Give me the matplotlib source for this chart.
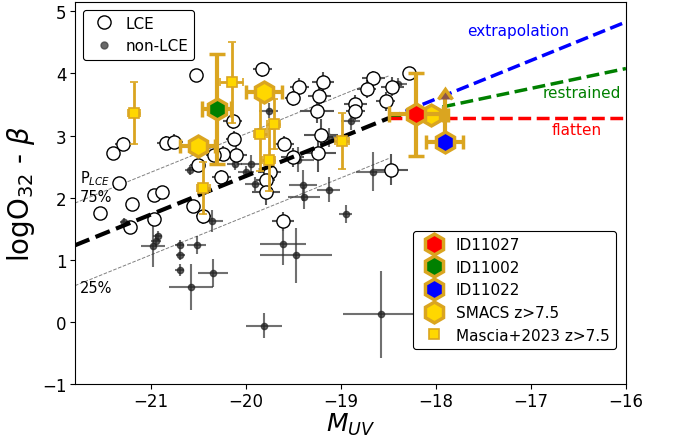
import matplotlib
matplotlib.use('Agg')
import matplotlib.pyplot as plt
import numpy as np
from matplotlib.lines import Line2D

# LCE galaxies (open circles)
lce_muv = [-20.53, -21.30, -21.40, -21.34, -20.84, -20.76, -19.83, -19.44, -19.51, -19.19,
           -19.23, -19.25, -19.21, -19.24, -19.60, -19.51, -20.14, -20.13, -20.11, -20.24,
           -20.34, -20.26, -19.75, -19.79, -19.79, -18.85, -18.85, -18.66, -18.73, -18.46,
           -18.53, -18.28, -18.47, -19.61, -20.97, -20.88, -20.97, -20.56, -20.45, -21.54,
           -21.20, -21.22, -20.51]
lce_val = [3.98, 2.87, 2.72, 2.23, 2.88, 2.90, 4.07, 3.79, 3.60, 3.87,
           3.64, 3.39, 3.01, 2.72, 2.87, 2.65, 3.23, 2.95, 2.68, 2.71,
           2.68, 2.33, 2.42, 2.28, 2.09, 3.51, 3.39, 3.92, 3.75, 3.79,
           3.55, 4.01, 2.45, 1.62, 2.04, 2.09, 1.65, 1.86, 1.70, 1.75,
           1.90, 1.53, 2.52]
lce_xerr = [0.06, 0.08, 0.06, 0.05, 0.10, 0.10, 0.10, 0.10, 0.08, 0.12,
            0.12, 0.18, 0.18, 0.19, 0.10, 0.12, 0.10, 0.08, 0.12, 0.10,
            0.08, 0.10, 0.12, 0.10, 0.15, 0.12, 0.10, 0.12, 0.10, 0.12,
            0.10, 0.06, 0.18, 0.12, 0.06, 0.06, 0.05, 0.05, 0.08, 0.05,
            0.06, 0.05, 0.08]
lce_yerr = [0.08, 0.10, 0.08, 0.06, 0.12, 0.12, 0.12, 0.13, 0.12, 0.16,
            0.20, 0.18, 0.25, 0.30, 0.12, 0.15, 0.12, 0.12, 0.15, 0.12,
            0.10, 0.12, 0.15, 0.15, 0.20, 0.15, 0.15, 0.12, 0.15, 0.15,
            0.15, 0.08, 0.25, 0.15, 0.08, 0.08, 0.08, 0.08, 0.12, 0.06,
            0.08, 0.06, 0.10]

# non-LCE galaxies (filled dots)
nlce_muv = [-18.66, -18.90, -18.40, -19.76, -19.45, -19.13, -19.40, -19.39, -19.13, -18.95,
            -19.61, -19.47, -19.81, -18.58, -19.91, -20.36, -20.98, -20.95, -20.93, -20.70,
            -20.69, -20.70, -20.52, -20.35, -20.58, -21.28, -20.59, -20.12, -19.95, -20.00]
nlce_val = [2.42, 3.24, 3.83, 3.40, 2.61, 2.97, 2.20, 2.01, 2.13, 1.74,
            1.26, 1.07, -0.06, 0.12, 2.22, 1.62, 1.22, 1.31, 1.39, 1.24,
            1.08, 0.84, 1.24, 0.79, 0.56, 1.61, 2.44, 2.54, 2.54, 2.41]
nlce_xerr = [0.18, 0.10, 0.10, 0.10, 0.17, 0.12, 0.15, 0.17, 0.12, 0.07,
             0.24, 0.38, 0.19, 0.40, 0.10, 0.12, 0.13, 0.05, 0.05, 0.05,
             0.05, 0.05, 0.10, 0.16, 0.23, 0.05, 0.05, 0.08, 0.10, 0.08]
nlce_yerr = [0.32, 0.15, 0.10, 0.12, 0.20, 0.15, 0.25, 0.20, 0.20, 0.15,
             0.35, 0.44, 0.20, 0.70, 0.12, 0.18, 0.34, 0.10, 0.08, 0.08,
             0.08, 0.10, 0.15, 0.23, 0.37, 0.06, 0.08, 0.10, 0.15, 0.10]

# Mascia+2023 z>7.5
mas_muv = [-21.18, -20.15, -19.85, -19.71, -19.76, -20.45, -18.99]
mas_val = [3.37, 3.86, 3.03, 3.19, 2.60, 2.15, 2.92]
mas_xerr = [0.06, 0.12, 0.07, 0.07, 0.07, 0.07, 0.07]
mas_yerr = [0.50, 0.65, 0.60, 0.40, 0.50, 0.42, 0.45]

# SMACS z>7.5
smacs_muv = [-20.51, -19.81, -18.05]
smacs_val = [2.84, 3.71, 3.33]
smacs_xerr = [0.18, 0.19, 0.18]

# individual objects
id_names = ['ID11027', 'ID11002', 'ID11022']
id_colors = ['red', 'green', 'blue']
id_muv = [-18.21, -20.31, -17.91]
id_val = [3.34, 3.43, 2.90]
id_xerr = [0.28, 0.15, 0.19]
id_yerr = [0.67, 0.88, 0.69]
id_lolim = [False, False, True]

# relation: pivot and slopes
x_pivot, y_pivot = -18.5, 3.28
slope_fit = 0.62
slope_restr = 0.32
p75_off, p25_off = 0.68, -0.65
x_left, x_right = -21.8, -16.0

gold = '#DAA520'
fill = '#FFD700'

fig, ax = plt.subplots(figsize=(6.76, 4.39), dpi=100)
fig.subplots_adjust(left=0.111, right=0.926, bottom=0.123, top=0.993)

# non-LCE
ax.errorbar(nlce_muv, nlce_val, xerr=nlce_xerr, yerr=nlce_yerr, fmt='o', ms=4.5,
            color='#222222', alpha=0.7, ecolor='#333333', elinewidth=1.5, zorder=2)
# LCE
ax.errorbar(lce_muv, lce_val, xerr=lce_xerr, yerr=lce_yerr, fmt='o', ms=9.5,
            mfc='white', mec='black', mew=1.0, ecolor='#555555', elinewidth=1.5,
            zorder=3)

# fit lines
xf = np.array([x_left, x_pivot])
yf = y_pivot + slope_fit * (xf - x_pivot)
ax.plot(xf, yf, '--', color='black', lw=3, zorder=4)
ax.plot(xf, yf + p75_off, '--', color='gray', lw=0.7, zorder=1)
ax.plot(xf, yf + p25_off, '--', color='gray', lw=0.7, zorder=1)

xr = np.array([x_pivot, x_right])
ax.plot(xr, y_pivot + slope_fit * (xr - x_pivot), '--', color='blue', lw=2.5, zorder=4)
ax.plot(xr, y_pivot + slope_restr * (xr - x_pivot), '--', color='green', lw=2.5, zorder=4)
ax.plot(xr, [y_pivot, y_pivot], '--', color='red', lw=2.5, zorder=4)

ax.text(-17.14, 4.69, 'extrapolation', color='blue', fontsize=11, ha='center', va='center')
ax.text(-16.47, 3.69, 'restrained', color='green', fontsize=11, ha='center', va='center')
ax.text(-16.52, 3.10, 'flatten', color='red', fontsize=11, ha='center', va='center')
ax.text(-21.75, 2.33, r'P$_{LCE}$', fontsize=10.5, ha='left', va='center')
ax.text(-21.75, 2.02, '75%', fontsize=10.5, ha='left', va='center')
ax.text(-21.75, 0.55, '25%', fontsize=10.5, ha='left', va='center')

# Mascia
ax.errorbar(mas_muv, mas_val, xerr=mas_xerr, yerr=mas_yerr, fmt='s', ms=7,
            mfc=fill, mec=gold, mew=1.2, ecolor=gold, elinewidth=2, capsize=3, zorder=5)
# SMACS
ax.errorbar(smacs_muv, smacs_val, xerr=smacs_xerr, fmt='h', ms=15,
            mfc=fill, mec=gold, mew=2.5, ecolor=gold, elinewidth=3, capsize=5,
            capthick=2.5, zorder=6)
# IDs
for i in range(3):
    if id_lolim[i]:
        ax.errorbar(id_muv[i], id_val[i], xerr=id_xerr[i], yerr=id_yerr[i], lolims=True,
                    fmt='h', ms=15, mfc=id_colors[i], mec=gold, mew=2.5, ecolor=gold,
                    elinewidth=3, capsize=5, capthick=2.5, zorder=7)
    else:
        ax.errorbar(id_muv[i], id_val[i], xerr=id_xerr[i], yerr=id_yerr[i],
                    fmt='h', ms=15, mfc=id_colors[i], mec=gold, mew=2.5, ecolor=gold,
                    elinewidth=3, capsize=6, capthick=2.5, zorder=7)

ax.set_xlim(x_left, x_right)
ax.set_ylim(-1, 5.15)
ax.set_xticks([-21, -20, -19, -18, -17, -16])
ax.set_yticks([-1, 0, 1, 2, 3, 4, 5])
ax.tick_params(labelsize=12, pad=2.5)
ax.set_xlabel(r'$M_{UV}$', fontsize=18, labelpad=0)
ax.set_ylabel(r'logO$_{32}$ - $\beta$', fontsize=20, labelpad=4)

h1 = [Line2D([], [], marker='o', ls='none', ms=9.5, mfc='white', mec='black'),
      Line2D([], [], marker='o', ls='none', ms=5, color='#444444', alpha=0.8)]
leg1 = ax.legend(h1, ['LCE', 'non-LCE'], loc='upper left', fontsize=11,
                 handletextpad=0.4, framealpha=1, edgecolor='black')
leg1.get_frame().set_linewidth(0.8)
ax.add_artist(leg1)

h2 = [Line2D([], [], marker='h', ls='none', ms=15, mfc=c, mec=gold, mew=2.5)
      for c in id_colors]
h2.append(Line2D([], [], marker='h', ls='none', ms=15, mfc=fill, mec=gold, mew=2.5))
h2.append(Line2D([], [], marker='s', ls='none', ms=7, mfc=fill, mec=gold, mew=1.2))
leg2 = ax.legend(h2, id_names + ['SMACS z>7.5', 'Mascia+2023 z>7.5'],
                 loc='lower right', bbox_to_anchor=(0.995, 0.072), fontsize=11,
                 handletextpad=0.4, framealpha=1, edgecolor='black')
leg2.get_frame().set_linewidth(0.8)

plt.savefig('out.png')
